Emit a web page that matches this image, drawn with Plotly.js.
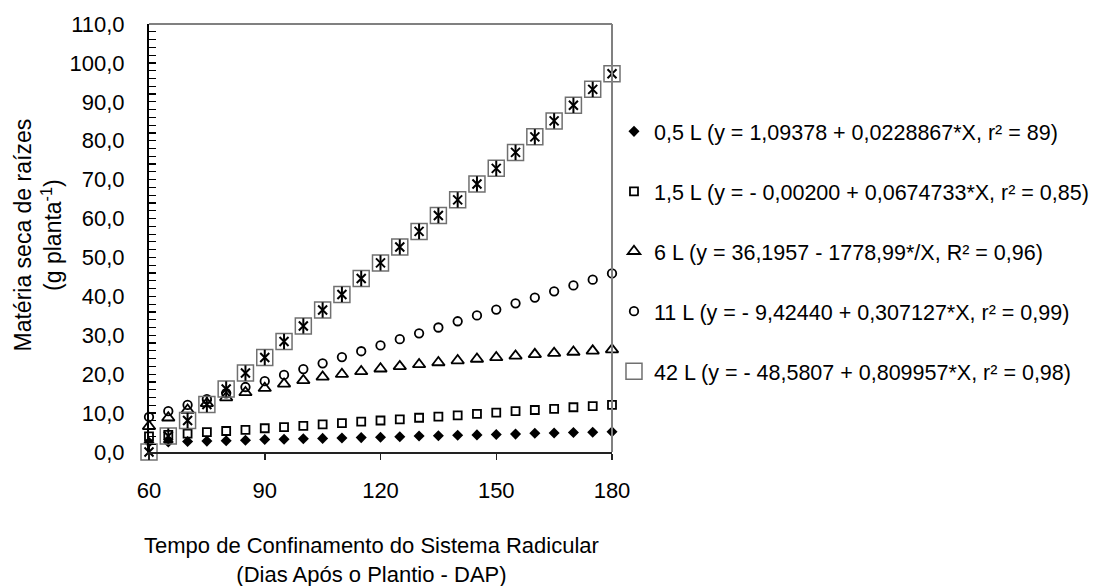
<!DOCTYPE html>
<html>
<head>
<meta charset="utf-8">
<script src="https://cdn.plot.ly/plotly-3.0.1.min.js"></script>
<style>
  html, body { margin: 0; padding: 0; background: #fff; }
  #chart { width: 1101px; height: 586px; }
</style>
</head>
<body>
<div id="chart"></div>
<script>
// days after planting (DAP)
const days = [60, 65, 70, 75, 80, 85, 90, 95, 100, 105, 110, 115, 120,
  125, 130, 135, 140, 145, 150, 155, 160, 165, 170, 175, 180];

// root dry matter (g planta-1) per container volume
const vol05 = [2.5, 2.6, 2.7, 2.8, 2.9, 3.0, 3.2, 3.3, 3.4, 3.5, 3.6, 3.7, 3.8,
  3.9, 4.1, 4.2, 4.3, 4.4, 4.5, 4.6, 4.8, 4.9, 5.0, 5.1, 5.2];
const vol15 = [4.0, 4.4, 4.7, 5.1, 5.4, 5.7, 6.1, 6.4, 6.7, 7.1, 7.4, 7.8, 8.1,
  8.4, 8.8, 9.1, 9.4, 9.8, 10.1, 10.5, 10.8, 11.1, 11.5, 11.8, 12.1];
const vol6 = [6.6, 8.8, 10.8, 12.5, 14.0, 15.3, 16.4, 17.5, 18.4, 19.3, 20.0, 20.7, 21.4,
  22.0, 22.5, 23.0, 23.5, 23.9, 24.3, 24.7, 25.1, 25.4, 25.7, 26.0, 26.3];
const vol11 = [9.0, 10.5, 12.1, 13.6, 15.1, 16.7, 18.2, 19.8, 21.3, 22.8, 24.4, 25.9, 27.4,
  29.0, 30.5, 32.0, 33.6, 35.1, 36.6, 38.2, 39.7, 41.3, 42.8, 44.3, 45.9];
const vol42 = [0.0, 4.1, 8.1, 12.2, 16.2, 20.3, 24.3, 28.4, 32.4, 36.5, 40.5, 44.6, 48.6,
  52.7, 56.7, 60.8, 64.8, 68.9, 72.9, 77.0, 81.0, 85.1, 89.1, 93.2, 97.2];

const seriesNames = [
  '0,5 L (y = 1,09378 + 0,0228867*X, r² = 89)',
  '1,5 L (y = - 0,00200 + 0,0674733*X, r² = 0,85)',
  '6 L (y = 36,1957 - 1778,99*/X, R² = 0,96)',
  '11 L (y = - 9,42440 + 0,307127*X, r² = 0,99)',
  '42 L (y = - 48,5807 + 0,809957*X, r² = 0,98)',
];

const xTicks = [60, 90, 120, 150, 180];

const xTitle = 'Tempo de Confinamento do Sistema Radicular<br>(Dias Após o Plantio - DAP)';
const yTitle = 'Matéria seca de raízes<br>(g planta<sup>-1</sup>)';

const fontFamily = 'Liberation Sans, Arial, sans-serif';

function markerTrace(values, name, group, marker, showlegend = true) {
  return {
    x: days,
    y: values,
    type: 'scatter',
    mode: 'markers',
    name: name,
    legendgroup: group,
    showlegend: showlegend,
    cliponaxis: false,
    hoverinfo: 'x+y',
    marker: marker,
  };
}

const traces = [
  markerTrace(vol05, seriesNames[0], 'g1', { symbol: 'diamond', size: 8.5, color: '#000' }),
  markerTrace(vol15, seriesNames[1], 'g2', {
    symbol: 'square-open', size: 8, color: '#000', line: { width: 1.8 },
  }),
  markerTrace(vol6, seriesNames[2], 'g3', {
    symbol: 'triangle-up-open', size: 11, color: '#000', line: { width: 1.8 },
  }),
  markerTrace(vol11, seriesNames[3], 'g4', {
    symbol: 'circle-open', size: 8.5, color: '#000', line: { width: 1.8 },
  }),
  // 42 L: grey box with a black star on top
  markerTrace(vol42, seriesNames[4], 'g5', {
    symbol: 'square-open', size: 16, color: '#707070', line: { width: 1.5 },
  }),
  markerTrace(vol42, seriesNames[4], 'g5', {
    symbol: 'x-thin-open', size: 9, color: '#000', line: { width: 2 },
  }, false),
  markerTrace(vol42, seriesNames[4], 'g5', {
    symbol: 'line-ns-open', size: 11, color: '#000', line: { width: 2 },
  }, false),
];

const layout = {
  width: 1101,
  height: 586,
  // keep the plot box fixed, the legend is allowed to run to the page edge
  margin: { l: 149, r: 489, t: 24, b: 134, pad: 0, autoexpand: false },
  paper_bgcolor: '#fff',
  plot_bgcolor: '#fff',
  separators: ',.',
  font: { family: fontFamily, size: 22, color: '#000' },
  showlegend: true,
  legend: {
    x: 1.0043,
    xanchor: 'left',
    y: 0.797,
    yanchor: 'top',
    tracegroupgap: 29,
    itemwidth: 30,
    bgcolor: 'rgba(0,0,0,0)',
    font: { size: 21.5, color: '#000' },
  },
  xaxis: {
    range: [60, 180],
    tickvals: xTicks,
    ticks: 'outside',
    ticklen: 6,
    tickwidth: 1.5,
    tickcolor: '#222',
    ticklabelstandoff: 12,
    showline: true,
    linecolor: '#222',
    linewidth: 1.8,
    showgrid: false,
    zeroline: false,
  },
  yaxis: {
    range: [0, 110],
    dtick: 10,
    tickformat: '.1f',
    ticks: 'inside',
    ticklen: 7,
    tickwidth: 1.2,
    tickcolor: '#000',
    ticklabelstandoff: 18,
    minor: { dtick: 2, ticks: 'inside', ticklen: 7, tickwidth: 1.2, tickcolor: '#000' },
    showline: true,
    linecolor: '#000',
    linewidth: 2,
    showgrid: false,
    zeroline: false,
  },
  annotations: [
    {
      text: xTitle, xref: 'paper', yref: 'paper', x: 0.48, y: -0.184,
      xanchor: 'center', yanchor: 'top', align: 'center', showarrow: false,
      font: { family: fontFamily, size: 22, color: '#000' },
    },
    {
      text: yTitle, xref: 'paper', yref: 'paper', x: -0.2387, y: 0.507,
      xanchor: 'center', yanchor: 'middle', align: 'center', showarrow: false,
      textangle: -90,
      font: { family: fontFamily, size: 23, color: '#000' },
    },
  ],
  // grey frame on the top and right of the plot area
  shapes: [
    { type: 'line', xref: 'paper', yref: 'paper', x0: 0, x1: 1, y0: 1, y1: 1,
      line: { color: '#808080', width: 2 } },
    { type: 'line', xref: 'paper', yref: 'paper', x0: 1, x1: 1, y0: 0, y1: 1,
      line: { color: '#808080', width: 2 } },
  ],
};

Plotly.newPlot('chart', traces, layout, { displayModeBar: false, staticPlot: true });
</script>
</body>
</html>
